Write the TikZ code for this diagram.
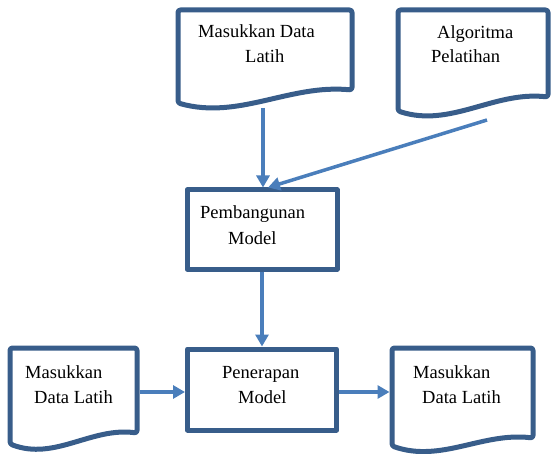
\documentclass[tikz,border=0pt]{standalone}
\usepackage{fontspec}
\setmainfont{Liberation Serif}
\usetikzlibrary{arrows.meta,calc}
\definecolor{bordc}{HTML}{385D8A}
\definecolor{arrc}{HTML}{4A7EBB}
\newcommand\mydocshape[5]{%
  \draw[docline] (#1,#2) -- (#3,#2) -- (#3,#5)
    .. controls ({#1+0.64*(#3-#1)},{#5-6}) and ({#1+0.35*(#3-#1)},{#4+17}) .. (#1,#4) -- cycle;}
\begin{document}
\begin{tikzpicture}[x=1pt,y=-1pt,
  docline/.style={draw=bordc,line width=5pt,line join=round,rounded corners=2.5pt,fill=white},
  procbox/.style={draw=bordc,line width=5pt,rectangle,fill=white,inner sep=0pt,line join=round},
  lbl/.style={anchor=base west,inner sep=0pt,font=\fontsize{18.5}{25}\selectfont},
  conn/.style={draw=arrc,line width=3.5pt,-{Triangle[length=12pt,width=13pt]}}]
\useasboundingbox (0,0) rectangle (551,454);
% documents
\mydocshape{178}{10}{352}{103}{90}
\mydocshape{398}{10}{548}{111}{97}
\mydocshape{10}{348}{137}{444}{433}
\mydocshape{392}{348}{533}{446}{438}
% process boxes
\node[procbox,minimum width=150pt,minimum height=79pt] (pb) at (262,229.5) {};
\node[procbox,minimum width=149pt,minimum height=81pt] (pn) at (262,389.5) {};
% texts
\node[lbl] (d1a) at (198,38) {Masukkan Data};
\node[lbl] (d1b) at (245,63) {Latih};
\node[lbl] (d2a) at (437,39) {Algoritma};
\node[lbl] (d2b) at (431,63) {Pelatihan};
\node[lbl] (pba) at (200,219) {Pembangunan};
\node[lbl] (pbb) at (228,244) {Model};
\node[lbl] (pna) at (222,378) {Penerapan};
\node[lbl] (pnb) at (238,403) {Model};
\node[lbl] (d3a) at (25,378) {Masukkan};
\node[lbl] (d3b) at (34,403) {Data Latih};
\node[lbl] (d4a) at (413,378) {Masukkan};
\node[lbl] (d4b) at (422,403) {Data Latih};
% connector ends
\coordinate (c1) at (263,108);
\coordinate (c2) at (487,120);
\coordinate (c3) at (139.5,392);
\coordinate (c4) at (389.5,392);
% connectors
\draw[conn] (c1) -- (c1 |- pb.north);
\draw[conn] (c2) -- ([xshift=6pt]pb.north);
\draw[conn] (pb.south) -- (pn.north);
\draw[conn] (c3) -- (c3 -| pn.west);
\draw[conn] (c3 -| pn.east) -- (c4);
\end{tikzpicture}
\end{document}
